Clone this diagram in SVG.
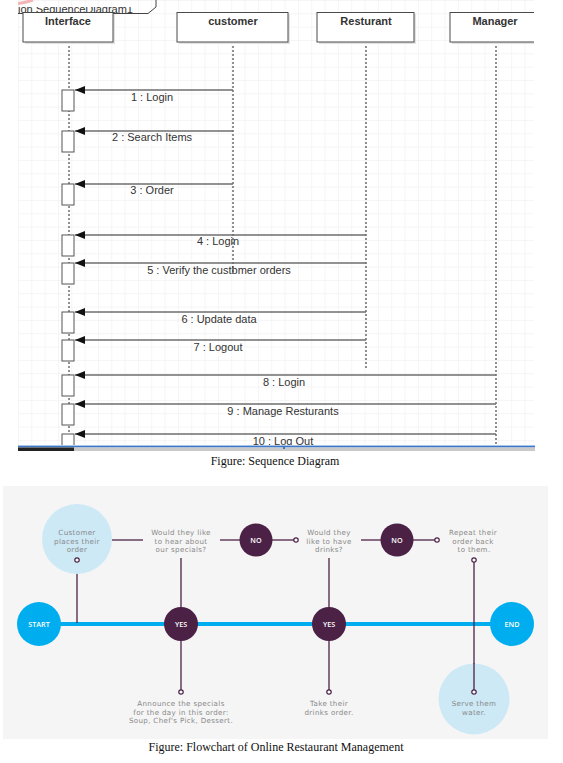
<svg xmlns="http://www.w3.org/2000/svg" width="563" height="763" viewBox="0 0 563 763">
<style>
.hdr{font-family:"Liberation Sans",Arial,sans-serif;font-size:11px;font-weight:bold;fill:#333;text-anchor:middle}
.msg{font-family:"Liberation Sans",Arial,sans-serif;font-size:11px;fill:#333;text-anchor:middle}
.box{fill:#fff;stroke:#4a4a4a;stroke-width:1}
.shadow{fill:#e2e2e2}
.life{stroke:#222;stroke-width:1;stroke-dasharray:2,2;fill:none}
.act{fill:#fff;stroke:#555;stroke-width:1}
.mline{stroke:#6e6e6e;stroke-width:1.3;fill:none}
.cap{font-family:"Liberation Serif","Times New Roman",serif;font-size:12px;fill:#111;text-anchor:middle}
.ft{font-family:"DejaVu Sans",sans-serif;font-size:7.1px;letter-spacing:0.35px;fill:#888;text-anchor:middle}
.fl{font-family:"Open Sans","Noto Sans",sans-serif;font-size:7.2px;font-weight:600;fill:#fff;text-anchor:middle}
.pl{stroke:#4b2146;stroke-width:1.3;fill:none}
.dot{fill:#fff;stroke:#4b2146;stroke-width:1.2}
.purple{fill:#4b2146}
.blue{fill:#00aeef}
.light{fill:#cde9f6}
</style>
<defs>
<pattern id="grid" x="18" y="0" width="13.33" height="13.33" patternUnits="userSpaceOnUse">
<path d="M13.33,0 L0,0 L0,13.33" fill="none" stroke="#ebebeb" stroke-width="1"/>
</pattern>
<marker id="ah" markerWidth="10" markerHeight="8" refX="10" refY="4" orient="auto" markerUnits="userSpaceOnUse">
<path d="M0,0 L10,4 L0,8 Z" fill="#111"/>
</marker>
<clipPath id="seqclip"><rect x="18" y="0" width="516" height="447"/></clipPath>
<clipPath id="tabclip"><rect x="0" y="7" width="200" height="8"/></clipPath>
</defs>

<rect width="563" height="763" fill="#fff"/>

<!-- Sequence diagram -->
<g id="sequence" clip-path="url(#seqclip)">
<rect x="18" y="0" width="516" height="447" fill="url(#grid)"/>
<path d="M0,3 Q15,6 33,0" stroke="#f4b4b4" stroke-width="3" fill="none"/>
<g clip-path="url(#tabclip)">
<text x="18" y="13" font-family="Liberation Sans,Arial,sans-serif" font-size="11" fill="#333">ion SequenceDiagram1</text>
</g>
<path d="M18,13.5 L148,13.5 L156,7 L156,0" fill="none" stroke="#444" stroke-width="1"/>

<g id="lifelines">
<line class="life" x1="69" y1="42" x2="69" y2="447"/>
<line class="life" x1="233" y1="42" x2="233" y2="274"/>
<line class="life" x1="366" y1="42" x2="366" y2="370"/>
<line class="life" x1="496" y1="42" x2="496" y2="447"/>
</g>

<g id="n-interface">
<rect class="shadow" x="25" y="14" width="90" height="30"/>
<rect class="box" x="23" y="12.5" width="90" height="29.5"/>
<text class="hdr" x="68" y="25">Interface</text>
</g>
<g id="n-customer">
<rect class="shadow" x="179" y="14" width="111" height="30"/>
<rect class="box" x="177" y="12.5" width="111" height="29.5"/>
<text class="hdr" x="233" y="25">customer</text>
</g>
<g id="n-resturant">
<rect class="shadow" x="319" y="14" width="97" height="30"/>
<rect class="box" x="317" y="12.5" width="97" height="29.5"/>
<text class="hdr" x="366" y="25">Resturant</text>
</g>
<g id="n-manager">
<rect class="shadow" x="452" y="14" width="95" height="30"/>
<rect class="box" x="450" y="12.5" width="95" height="29.5"/>
<text class="hdr" x="495" y="25">Manager</text>
</g>

<g id="activations">
<rect class="act" x="62" y="90" width="12" height="21"/>
<rect class="act" x="62" y="131" width="12" height="21"/>
<rect class="act" x="62" y="184" width="12" height="21"/>
<rect class="act" x="62" y="235" width="12" height="21"/>
<rect class="act" x="62" y="263" width="12" height="21"/>
<rect class="act" x="62" y="312" width="12" height="21"/>
<rect class="act" x="62" y="340" width="12" height="21"/>
<rect class="act" x="62" y="375" width="12" height="21"/>
<rect class="act" x="62" y="404" width="12" height="21"/>
<rect class="act" x="62" y="434" width="12" height="21"/>
</g>

<g id="messages">
<line class="mline" x1="233" y1="90" x2="75" y2="90" marker-end="url(#ah)"/>
<line class="mline" x1="233" y1="131" x2="75" y2="131" marker-end="url(#ah)"/>
<line class="mline" x1="233" y1="184" x2="75" y2="184" marker-end="url(#ah)"/>
<line class="mline" x1="366" y1="235" x2="75" y2="235" marker-end="url(#ah)"/>
<line class="mline" x1="366" y1="263" x2="75" y2="263" marker-end="url(#ah)"/>
<line class="mline" x1="366" y1="312" x2="75" y2="312" marker-end="url(#ah)"/>
<line class="mline" x1="366" y1="340" x2="75" y2="340" marker-end="url(#ah)"/>
<line class="mline" x1="496" y1="375" x2="75" y2="375" marker-end="url(#ah)"/>
<line class="mline" x1="496" y1="404" x2="75" y2="404" marker-end="url(#ah)"/>
<line class="mline" x1="496" y1="434" x2="75" y2="434" marker-end="url(#ah)"/>
<text class="msg" x="152" y="101">1 : Login</text>
<text class="msg" x="152" y="141">2 : Search Items</text>
<text class="msg" x="152" y="194">3 : Order</text>
<text class="msg" x="218" y="245">4 : Login</text>
<text class="msg" x="219" y="274">5 : Verify the custbmer orders</text>
<text class="msg" x="219" y="323">6 : Update data</text>
<text class="msg" x="218" y="351">7 : Logout</text>
<text class="msg" x="284" y="386">8 : Login</text>
<text class="msg" x="283" y="415">9 : Manage Resturants</text>
<text class="msg" x="283" y="445">10 : Log Out</text>
</g>
</g>
<g id="seq-bottom">
<rect x="18" y="445" width="517" height="1" fill="#a9c6ea"/>
<rect x="18" y="446" width="517" height="1.5" fill="#3d78c8"/>
<rect x="18" y="447.5" width="517" height="3.5" fill="#c9c9c9"/>
<rect x="18" y="447.5" width="56" height="3.5" fill="#222"/>
<rect x="283" y="446" width="2" height="3" fill="#3d78c8"/>
</g>
<text class="cap" x="275" y="465">Figure: Sequence Diagram</text>

<!-- Flowchart -->
<rect x="3" y="486" width="545" height="253" fill="#f5f5f5"/>

<g id="connectors">
<line x1="39" y1="624" x2="512" y2="624" stroke="#00aeef" stroke-width="4"/>
<line class="pl" x1="112" y1="540" x2="143" y2="540"/>
<line class="pl" x1="220" y1="540" x2="240" y2="540"/>
<line class="pl" x1="272" y1="540" x2="294" y2="540"/>
<line class="pl" x1="361" y1="540" x2="381" y2="540"/>
<line class="pl" x1="413" y1="540" x2="435" y2="540"/>
<line class="pl" x1="77" y1="562" x2="77" y2="623"/>
<line class="pl" x1="181" y1="558" x2="181" y2="608"/>
<line class="pl" x1="329" y1="558" x2="329" y2="608"/>
<line class="pl" x1="181" y1="640" x2="181" y2="690"/>
<line class="pl" x1="329" y1="640" x2="329" y2="690"/>
<line class="pl" x1="474" y1="562" x2="474" y2="690"/>
</g>

<g id="n-start"><circle class="blue" cx="39" cy="624" r="22"/><text class="fl" x="39" y="627">START</text></g>
<g id="n-end"><circle class="blue" cx="512" cy="624" r="22"/><text class="fl" x="512" y="627">END</text></g>
<g id="n-yes1"><circle class="purple" cx="181" cy="624" r="17"/><text class="fl" x="181" y="627">YES</text></g>
<g id="n-yes2"><circle class="purple" cx="329" cy="624" r="17"/><text class="fl" x="329" y="627">YES</text></g>
<g id="n-no1"><circle class="purple" cx="256" cy="540" r="16.5"/><text class="fl" x="256" y="543">NO</text></g>
<g id="n-no2"><circle class="purple" cx="397" cy="540" r="16.5"/><text class="fl" x="397" y="543">NO</text></g>

<g id="n-customer-order">
<circle class="light" cx="77" cy="539" r="35"/>
<text class="ft" x="77" y="535">Customer</text>
<text class="ft" x="77" y="543.5">places their</text>
<text class="ft" x="77" y="552">order</text>
<circle class="dot" cx="77" cy="560" r="2.2"/>
</g>
<g id="n-q-specials">
<text class="ft" x="181" y="535">Would they like</text>
<text class="ft" x="181" y="543.5">to hear about</text>
<text class="ft" x="181" y="552">our specials?</text>
</g>
<g id="n-q-drinks">
<circle class="dot" cx="296" cy="540" r="2.2"/>
<text class="ft" x="329" y="535">Would they</text>
<text class="ft" x="329" y="543.5">like to have</text>
<text class="ft" x="329" y="552">drinks?</text>
</g>
<g id="n-repeat">
<circle class="dot" cx="437" cy="540" r="2.2"/>
<text class="ft" x="473" y="535">Repeat their</text>
<text class="ft" x="473" y="543.5">order back</text>
<text class="ft" x="474" y="552">to them.</text>
<circle class="dot" cx="474" cy="560" r="2.2"/>
</g>
<g id="n-announce">
<circle class="dot" cx="181" cy="692" r="2.2"/>
<text class="ft" x="181" y="706">Announce the specials</text>
<text class="ft" x="181" y="714.5">for the day in this order:</text>
<text class="ft" x="181" y="723">Soup, Chef's Pick, Dessert.</text>
</g>
<g id="n-take">
<circle class="dot" cx="329" cy="692" r="2.2"/>
<text class="ft" x="329" y="706">Take their</text>
<text class="ft" x="329" y="714.5">drinks order.</text>
</g>
<g id="n-serve">
<circle class="light" cx="474" cy="699" r="35.5"/>
<line class="pl" x1="474" y1="663" x2="474" y2="690"/>
<circle class="dot" cx="474" cy="692" r="2.2"/>
<text class="ft" x="474" y="706">Serve them</text>
<text class="ft" x="474" y="714.5">water.</text>
</g>

<text class="cap" x="276" y="751">Figure: Flowchart of Online Restaurant Management</text>
</svg>
